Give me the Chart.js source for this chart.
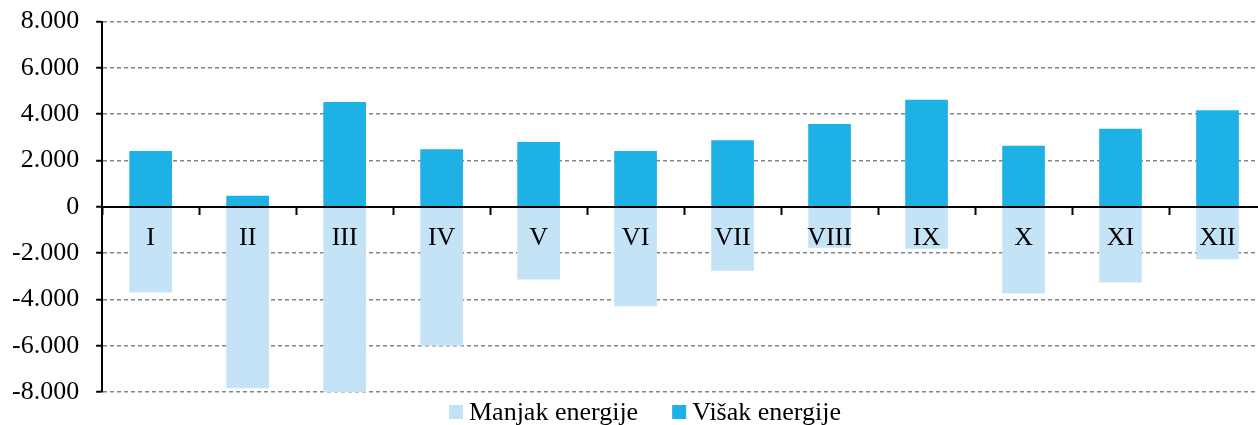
<!DOCTYPE html>
<html>
<head>
<meta charset="utf-8">
<script src="https://cdn.jsdelivr.net/npm/chart.js@4.4.1/dist/chart.umd.min.js"></script>
<style>
  html, body { margin: 0; padding: 0; background: #ffffff; overflow: hidden; }
  #wrap { position: relative; width: 1268px; height: 425px; overflow: hidden; }
  #inner { position: absolute; left: 0; top: -11px; width: 1268px; height: 436px; }
</style>
</head>
<body>
<div id="wrap"><div id="inner"><canvas id="c"></canvas></div></div>
<script>
const categories = ['I', 'II', 'III', 'IV', 'V', 'VI', 'VII', 'VIII', 'IX', 'X', 'XI', 'XII'];
const manjakEnergije = [-3700, -7840, -8000, -6000, -3140, -4300, -2760, -1770, -1810, -3750, -3270, -2270];
const visakEnergije = [2410, 480, 4530, 2490, 2800, 2410, 2880, 3580, 4620, 2640, 3370, 4170];
const seriesLabels = ['Manjak energije', 'Višak energije'];
const yMin = -8000, yMax = 8000, yStep = 2000;

const FONT = '"Liberation Serif", "Times New Roman", serif';
const COLOR_MANJAK = '#C5E3F6';
const COLOR_VISAK = '#1EB1E6';

function fmtThousands(v) {
  const s = Math.abs(v).toString().replace(/\B(?=(\d{3})+(?!\d))/g, '.');
  return (v < 0 ? '-' : '') + s;
}

const bottomLegend = {
  id: 'bottomLegend',
  afterDraw(chart) {
    const ctx = chart.ctx;
    const ds = chart.data.datasets;
    ctx.save();
    ctx.font = '26px ' + FONT;
    ctx.textBaseline = 'middle';
    ctx.textAlign = 'left';
    const box = 14, gapBoxText = 6, gapItems = 34;
    let total = 0;
    ds.forEach((d, i) => {
      total += box + gapBoxText + ctx.measureText(d.label).width + (i < ds.length - 1 ? gapItems : 0);
    });
    let x = 645 - total / 2;
    const yc = chart.height - 13;
    ds.forEach((d) => {
      ctx.fillStyle = d.backgroundColor;
      ctx.fillRect(x, yc - box / 2, box, box);
      x += box + gapBoxText;
      ctx.fillStyle = '#000';
      ctx.fillText(d.label, x, yc + 1);
      x += ctx.measureText(d.label).width + gapItems;
    });
    ctx.restore();
  }
};

new Chart(document.getElementById('c'), {
  type: 'bar',
  data: {
    labels: categories,
    datasets: [
      { label: seriesLabels[0], data: manjakEnergije, backgroundColor: COLOR_MANJAK, borderWidth: 0 },
      { label: seriesLabels[1], data: visakEnergije, backgroundColor: COLOR_VISAK, borderWidth: 0 }
    ]
  },
  options: {
    responsive: true,
    maintainAspectRatio: false,
    animation: false,
    layout: { padding: { left: -5, right: 2, top: 3, bottom: 33 } },
    datasets: { bar: { categoryPercentage: 1, barPercentage: 0.44 } },
    plugins: {
      legend: { display: false },
      tooltip: { enabled: false },
      title: { display: false }
    },
    scales: {
      x: {
        type: 'category',
        stacked: true,
        position: { y: 0 },
        offset: true,
        grid: {
          offset: true,
          drawOnChartArea: false,
          drawTicks: true,
          tickLength: 7,
          tickColor: '#000',
          tickWidth: 2,
          z: 1
        },
        border: { display: true, color: '#000', width: 2, z: 1 },
        ticks: {
          z: 1,
          color: '#000',
          font: { family: FONT, size: 26 },
          padding: 9,
          maxRotation: 0,
          autoSkip: false
        }
      },
      y: {
        stacked: true,
        min: yMin,
        max: yMax,
        grid: {
          color: '#858585',
          lineWidth: 1.5,
          drawTicks: true,
          tickLength: 6,
          tickColor: '#000',
          tickWidth: 2,
          tickBorderDash: []
        },
        border: { display: true, color: '#000', width: 2, dash: [4, 3] },
        ticks: {
          stepSize: yStep,
          color: '#000',
          font: { family: FONT, size: 26 },
          padding: 17,
          callback: (v) => fmtThousands(v)
        }
      }
    }
  },
  plugins: [bottomLegend]
});
</script>
</body>
</html>
